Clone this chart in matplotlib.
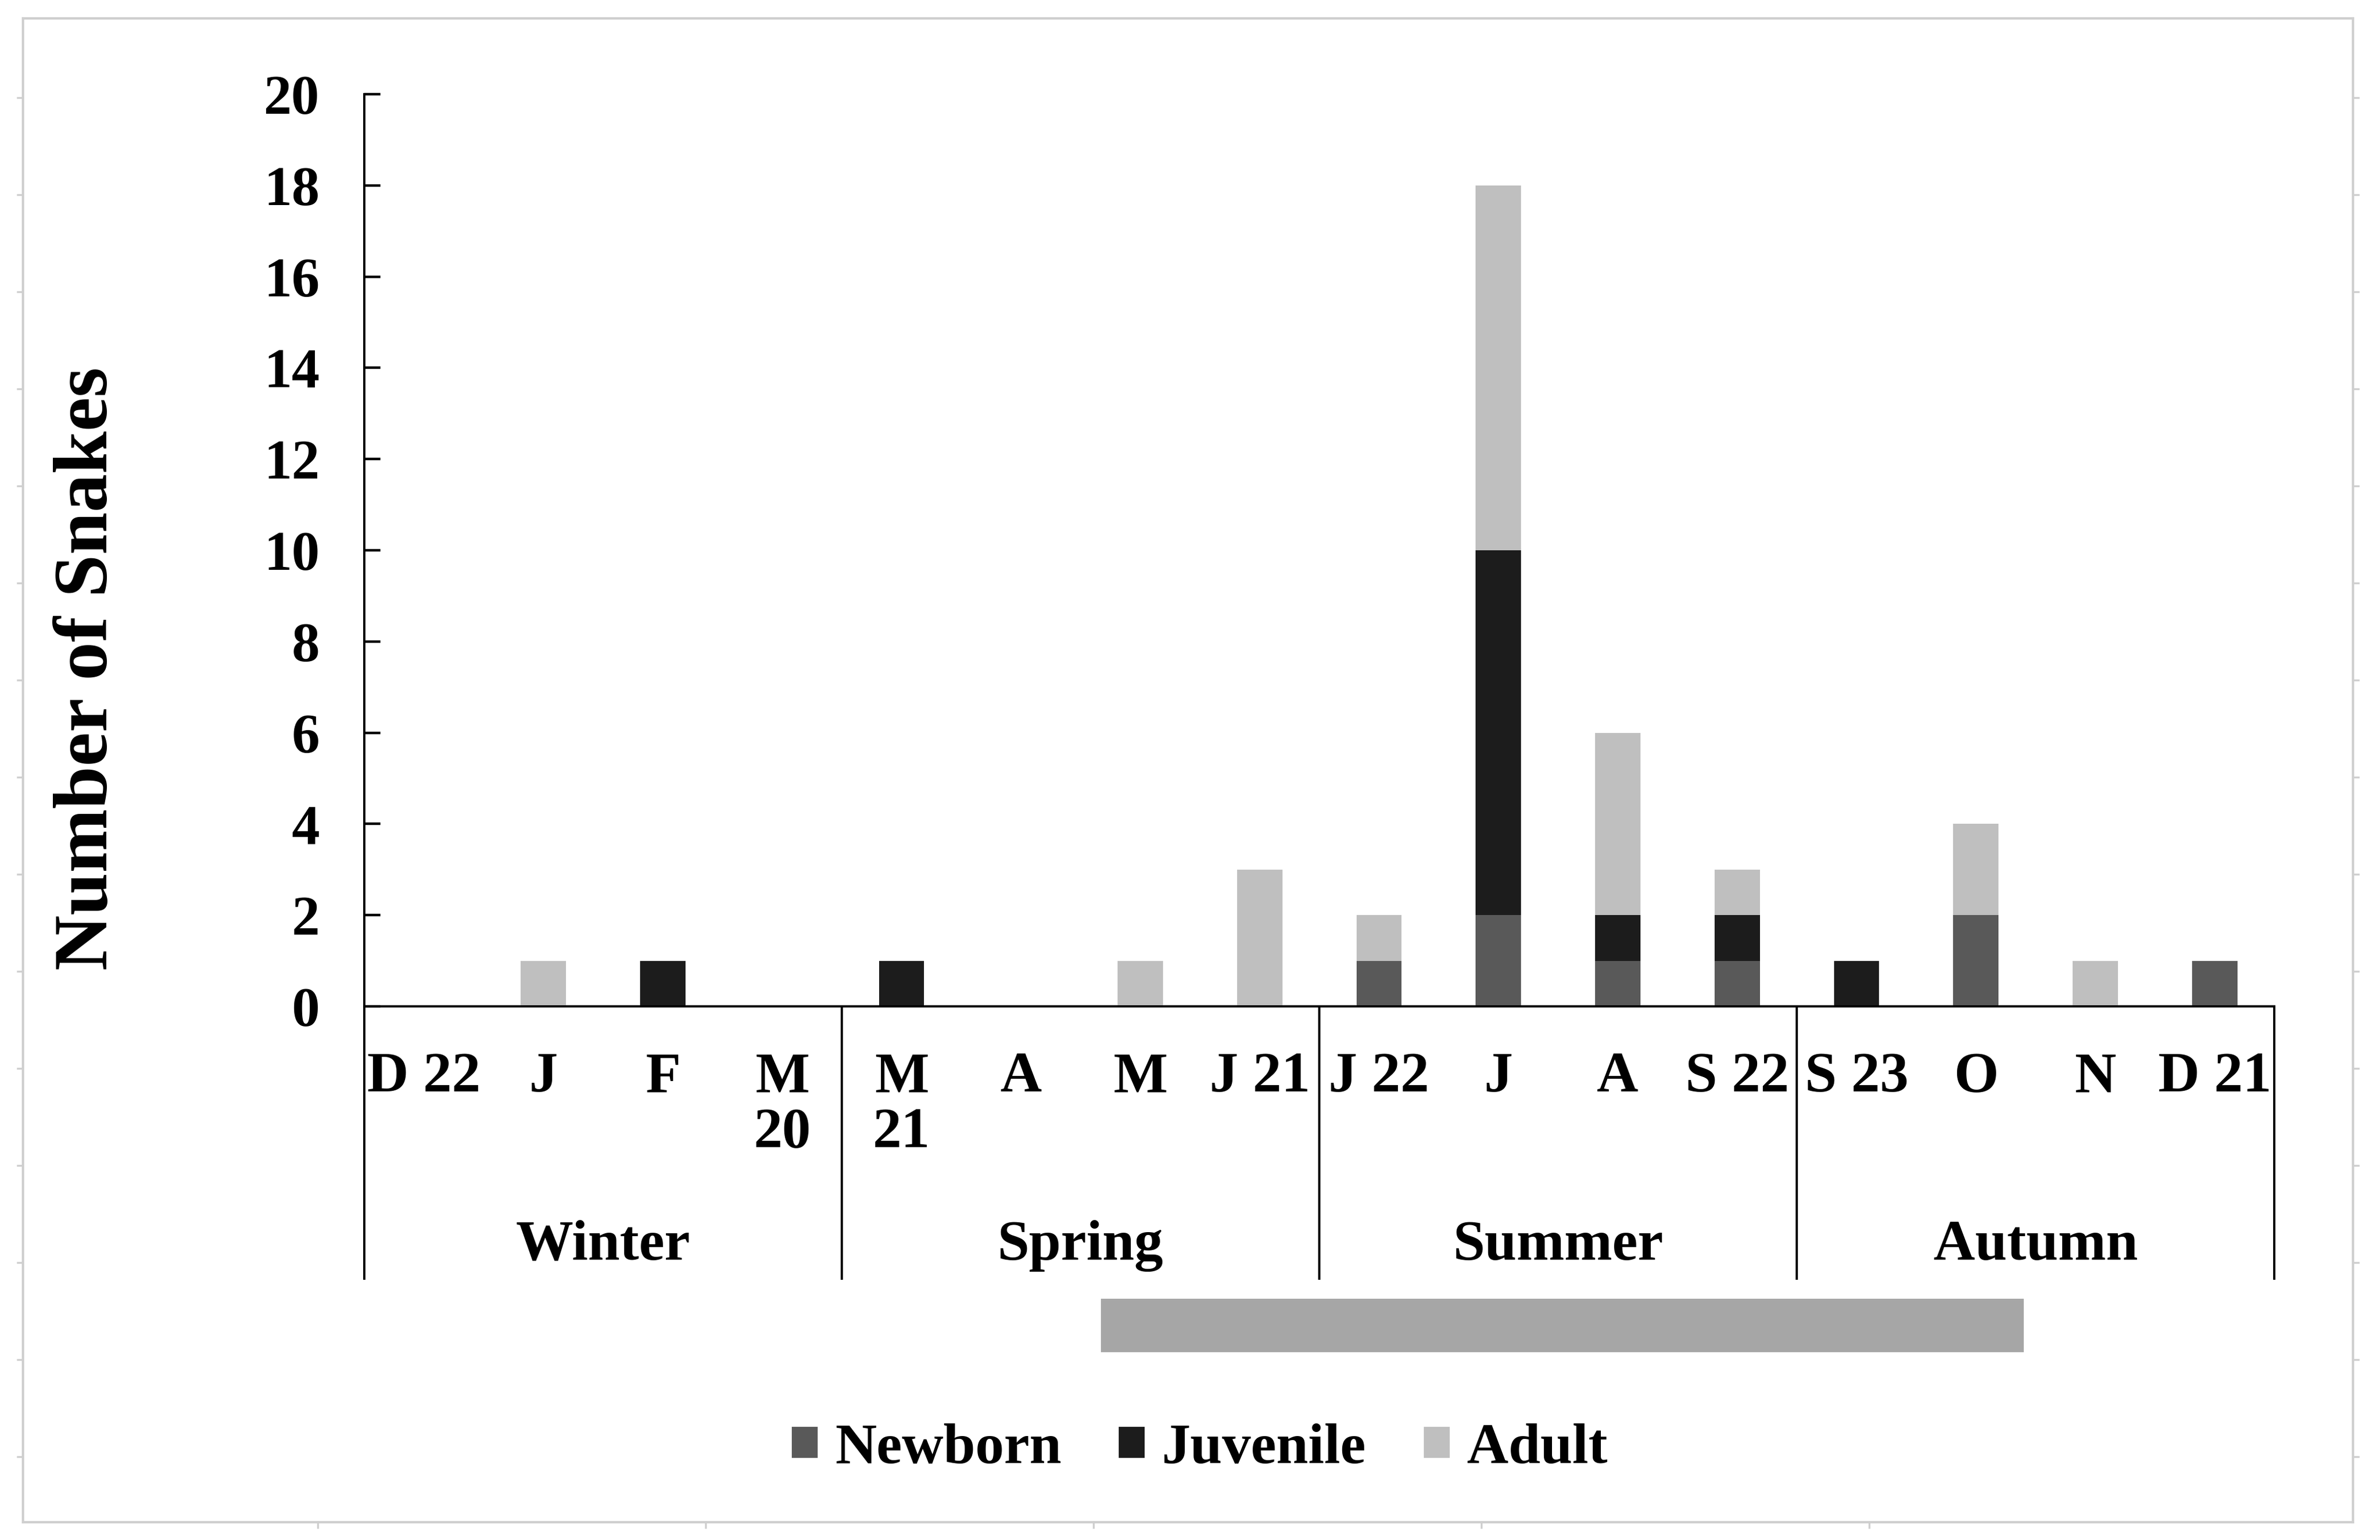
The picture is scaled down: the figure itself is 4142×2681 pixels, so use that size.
import matplotlib
matplotlib.use('Agg')
import matplotlib.pyplot as plt
import numpy as np

plt.rcParams['font.family'] = ['Liberation Serif', 'DejaVu Serif']
plt.rcParams['font.weight'] = 'bold'

# months (Dec 2020 .. Dec 2021, with overlaps as printed on the chart)
months = ['D 22', 'J', 'F', 'M\n20', 'M\n21', 'A', 'M', 'J 21',
          'J 22', 'J', 'A', 'S 22', 'S 23', 'O', 'N', 'D 21']
newborn = [0, 0, 0, 0, 0, 0, 0, 0, 1, 2, 1, 1, 0, 2, 0, 1]
juvenile = [0, 0, 1, 0, 1, 0, 0, 0, 0, 8, 1, 1, 1, 0, 0, 0]
adult = [0, 1, 0, 0, 0, 0, 1, 3, 1, 8, 4, 1, 0, 2, 1, 0]

seasons = ['Winter', 'Spring', 'Summer', 'Autumn']
season_edges = [-0.5, 3.5, 7.5, 11.5, 15.5]

# grey period bar below the axis (in month-index units)
period_start = 5.67
period_end = 13.4

c_newborn = '#595959'
c_juvenile = '#1c1c1c'
c_adult = '#bfbfbf'

fig = plt.figure(figsize=(20.71, 13.405), dpi=200)

# outer light grey frame with its faint ruler ticks (pixel units)
frame = fig.add_axes([40 / 4142, 31 / 2681, 4055 / 4142, 2618 / 2681])
frame.set_xlim(40, 4095)
frame.set_ylim(2650, 32)
frame.patch.set_visible(False)
for s in frame.spines.values():
    s.set_color('#cfcfcf')
    s.set_linewidth(1.5)
frame.set_yticks(np.arange(170, 2600, 169))
frame.set_xticks(np.arange(553, 3300, 675))
frame.tick_params(axis='both', direction='out', color='#cfcfcf', width=1.2,
                  length=4, labelleft=False, labelbottom=False)
frame.tick_params(axis='y', right=True, labelright=False)
frame.set_zorder(0)

ax = fig.add_axes([0.1531, 0.3465, 0.8025, 0.5923])
ax.patch.set_visible(False)
ax.set_zorder(1)

x = np.arange(len(months))
nb = np.array(newborn)
jv = np.array(juvenile)
ad = np.array(adult)
w = 0.38
ax.bar(x, nb, w, color=c_newborn, label='Newborn')
ax.bar(x, jv, w, bottom=nb, color=c_juvenile, label='Juvenile')
ax.bar(x, ad, w, bottom=nb + jv, color=c_adult, label='Adult')

ax.set_xlim(-0.5, 15.5)
ax.set_ylim(0, 20)
ax.set_yticks(np.arange(0, 21, 2))
ax.set_xticks([])
ax.tick_params(axis='y', direction='in', length=10, width=1.6, pad=28, labelsize=35)
for s in ['top', 'right']:
    ax.spines[s].set_visible(False)
ax.spines['left'].set_linewidth(1.4)
ax.spines['bottom'].set_linewidth(1.4)

# month labels
for i, m in enumerate(months):
    ax.text(i, -1.0, m, ha='center', va='top', fontsize=36, linespacing=1.1,
            clip_on=False)

# season dividers and labels
ax.vlines(season_edges, -6.0, 0, color='black', lw=1.4, clip_on=False)
for k, s in enumerate(seasons):
    ax.text((season_edges[k] + season_edges[k + 1]) / 2, -5.25, s,
            ha='center', va='center', fontsize=36, clip_on=False)

# grey period bar
ax.barh(-7.0, period_end - period_start, height=1.17, left=period_start,
        color='#a6a6a6', clip_on=False)

fig.text(0.037, 0.566, 'Number of Snakes', rotation=90, ha='center',
         va='center', fontsize=48)

handles, labels = ax.get_legend_handles_labels()
fig.legend(handles, labels, loc='center', bbox_to_anchor=(0.504, 0.059),
           ncol=3, frameon=False, fontsize=36, handlelength=0.45,
           handleheight=0.45, handletextpad=0.3, columnspacing=1.0)

fig.savefig('out.png', dpi=200)
